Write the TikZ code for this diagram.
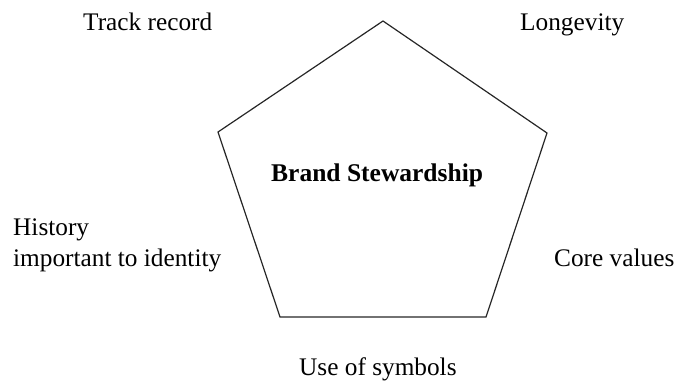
\documentclass[tikz,border=0pt]{standalone}
\usepackage{fontspec}
\setmainfont{Liberation Serif}
\begin{document}
\begin{tikzpicture}[x=1pt,y=-1pt,
  lbl/.style={anchor=base west,inner sep=0pt,font=\fontsize{25.3}{32}\selectfont},
  edge/.style={draw=black!85,line width=1.2pt,line join=miter}]
\useasboundingbox (0,0) rectangle (676,383);
\coordinate (vt) at (383,21);
\coordinate (vr) at (547,133);
\coordinate (vbr) at (486,317);
\coordinate (vbl) at (280,317);
\coordinate (vl) at (218,132);
\draw[edge] (vt) -- (vr) -- (vbr) -- (vbl) -- (vl) -- cycle;
\node[lbl] (track) at (83,30) {Track record};
\node[lbl] (longev) at (520,30) {Longevity};
\node[lbl,font=\fontsize{25.5}{32}\selectfont\bfseries] (brand) at (271,181) {Brand Stewardship};
\node[lbl] (hist) at (13,235) {History};
\node[lbl] (imp) at (13,266) {important to identity};
\node[lbl] (core) at (554,266) {Core values};
\node[lbl] (sym) at (299,375) {Use of symbols};
\end{tikzpicture}
\end{document}
